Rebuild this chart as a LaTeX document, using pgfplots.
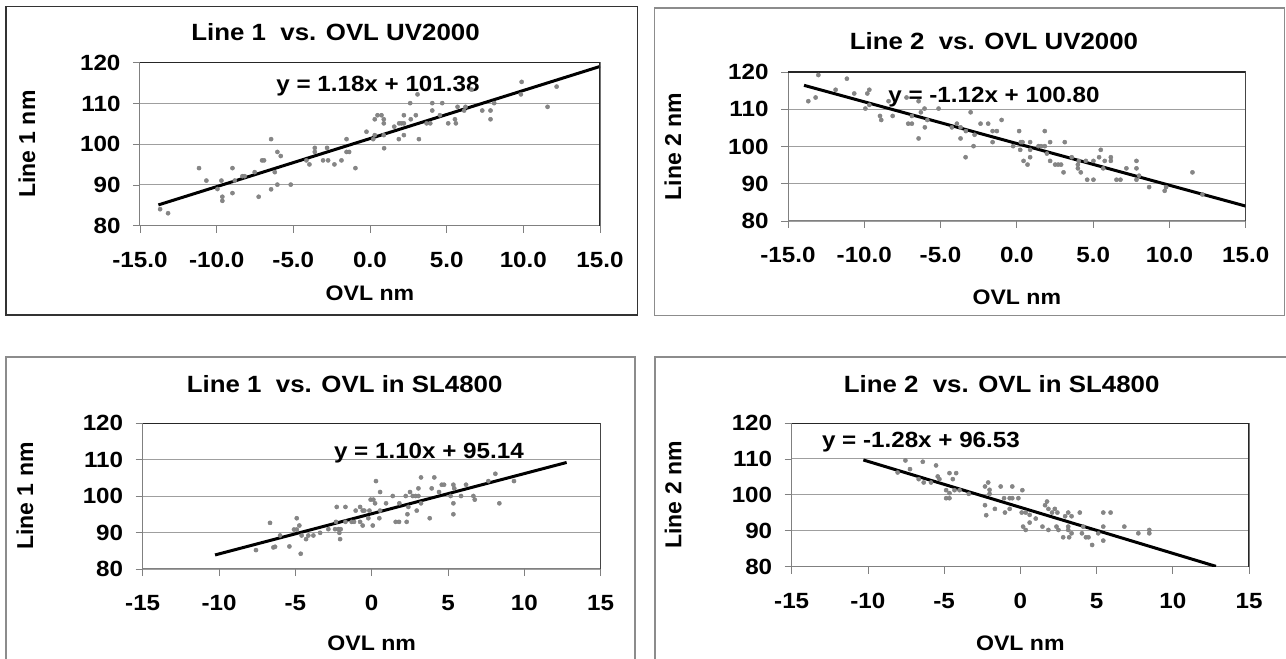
\documentclass[border=0pt]{standalone}
\usepackage{fontspec}
\setmainfont{Liberation Sans}[FakeStretch=1.1]
\newfontfamily\rotfont{Liberation Sans}
\usepackage{pgfplots}
\pgfplotsset{compat=1.18}
\newcommand{\fs}[1]{\fontsize{#1}{#1}\selectfont\bfseries}
\newcommand{\fr}[1]{\rotfont\fontsize{#1}{#1}\selectfont\bfseries}
\pgfplotsset{
  panel/.style={
    scale only axis,
    xmin=-15,xmax=15,ymin=80,ymax=120,
    xtick={-15,-10,-5,0,5,10,15},
    ytick={80,90,100,110,120},
    yticklabels={80,90,100,110,120},
    tick pos=left,
    tick align=outside,
    major tick length=7pt,
    tick style={gray, line width=0.8pt},
    axis line style={gray, line width=1pt},
    ymajorgrids,
    grid style={gray!75, line width=0.9pt},
    tick label style={font=\fs{22}},
    xlabel style={font=\fs{21}},
    ylabel style={font=\fr{23}},
    title style={font=\fs{23.5}},
    xticklabel shift=16pt,
    yticklabel shift=9pt,
    xlabel={OVL nm},
  },
  pts/.style={only marks, mark=*, mark size=2.1pt, mark options={fill=gray!95, draw=none}, color=gray},
  fit/.style={black, line width=3pt, no marks},
}
\begin{document}
\begin{tikzpicture}
\path[use as bounding box] (0pt,0pt) rectangle (1286pt,659pt);
% chart frames
\draw[black!80, line width=1.5pt] (6pt,652.5pt) rectangle (637.5pt,344pt);
\draw[gray!90, line width=1.2pt] (654.5pt,651pt) rectangle (1284.5pt,343.5pt);
\draw[gray!90, line width=1.2pt] (6pt,-2pt) -- (6pt,302pt) -- (635pt,302pt) -- (635pt,-2pt);
\draw[gray!90, line width=1.2pt] (655pt,-2pt) -- (655pt,302pt) -- (1290pt,302pt);

% Panel 1
\begin{axis}[panel, at={(140pt,433.3pt)}, anchor=south west, width=460pt, height=163pt,
  xticklabels={-15.0,-10.0,-5.0,0.0,5.0,10.0,15.0},
  ylabel={Line 1 nm},
  title={Line 1\ \ vs. OVL UV2000},
  title style={at={(axis description cs:0.425,1.152)}, anchor=center},
  xlabel style={at={(axis description cs:0.5,-0.413)}, anchor=center},
  ylabel style={at={(axis description cs:-0.2457,0.5)}, anchor=center},
]
\addplot[pts] coordinates {
(-13.69,84.05) (-13.17,83.06) (-11.15,94.13) (-10.67,91.07) (-9.69,91.07) (-9.95,89.0)
(-9.63,87.1) (-9.63,86.1) (-8.97,94.13) (-8.97,88.0) (-8.82,91.07) (-8.32,92.15)
(-8.17,92.15) (-7.52,93.14) (-7.26,87.1) (-7.04,96.03) (-6.91,96.03) (-6.45,101.24)
(-6.45,88.93) (-6.21,93.14) (-6.04,98.1) (-6.04,90.08) (-5.82,97.1) (-5.17,90.08)
(-4.15,96.03) (-3.95,95.04) (-3.60,99.09) (-3.60,98.1) (-3.06,96.03) (-2.80,99.09)
(-2.73,96.03) (-2.32,95.04) (-1.86,96.03) (-1.53,101.24) (-1.53,98.1) (-1.36,98.1)
(-0.95,94.13) (-0.23,103.06) (0.21,101.24) (0.31,102.23) (0.31,106.12) (0.49,107.11)
(0.75,107.11) (0.90,106.12) (0.90,105.12) (0.90,102.23) (0.92,99.01) (1.58,104.3)
(1.88,101.24) (1.90,105.12) (2.05,105.12) (2.21,107.11) (2.21,102.23) (2.21,105.12)
(2.66,106.12) (2.62,110.08) (2.99,107.11) (3.10,112.23) (3.19,101.24) (3.69,105.12)
(3.93,105.12) (4.06,110.08) (4.06,108.26) (4.56,107.11) (4.71,110.08) (5.10,105.12)
(5.54,106.12) (5.60,105.12) (5.71,109.17) (6.14,108.26) (6.23,109.17) (6.62,113.39)
(7.32,108.26) (7.86,108.26) (7.86,106.12) (8.10,110.08) (9.84,112.23) (9.89,115.29)
(11.58,109.17) (12.17,114.13)
};
\addplot[fit] coordinates {(-13.8,85.10) (15,119.08)};
\node[font=\fs{22}] at (axis cs:0.52,114.28) {y = 1.18x + 101.38};
\draw[black!85, line width=1.2pt] (rel axis cs:0,1) -- (rel axis cs:1,1) -- (rel axis cs:1,0);
\end{axis}

% Panel 2
\begin{axis}[panel, at={(788pt,438pt)}, anchor=south west, width=457.7pt, height=149pt,
  xticklabels={-15.0,-10.0,-5.0,0.0,5.0,10.0,15.0},
  ylabel={Line 2 nm},
  title={Line 2\ \ vs. OVL UV2000},
  title style={at={(axis description cs:0.450,1.170)}, anchor=center},
  xlabel style={at={(axis description cs:0.5,-0.51)}, anchor=center},
  ylabel style={at={(axis description cs:-0.2513,0.5)}, anchor=center},
]
\addplot[pts] coordinates {
(-13.67,112.16) (-13.19,113.15) (-13.01,119.19) (-11.88,115.23) (-11.14,118.2) (-10.66,114.23)
(-9.93,110.18) (-9.80,114.23) (-9.67,115.23) (-9.67,111.17) (-8.97,108.2) (-8.89,107.12)
(-8.41,112.16) (-8.14,108.2) (-7.23,113.15) (-7.12,106.13) (-6.88,106.13) (-6.88,108.2)
(-6.44,102.16) (-6.44,112.16) (-6.29,109.19) (-6.05,110.18) (-6.03,105.14) (-5.87,107.12)
(-5.13,110.18) (-4.26,105.14) (-3.93,106.13) (-3.69,102.16) (-3.69,105.14) (-3.36,97.12)
(-3.34,104.14) (-3.03,109.19) (-2.84,100.09) (-2.77,103.15) (-2.38,106.13) (-1.88,106.13)
(-1.59,101.17) (-1.59,104.14) (-1.31,104.14) (-1.00,107.12) (-0.24,100.09) (0.15,104.14)
(0.22,99.1) (0.26,101.17) (0.37,101.17) (0.44,96.13) (0.70,95.14) (0.87,101.17)
(0.87,99.1) (0.87,97.12) (1.42,100.09) (1.59,100.09) (1.83,104.14) (1.83,100.09)
(1.97,98.11) (2.18,101.17) (2.18,96.13) (2.51,95.14) (2.71,95.14) (2.90,95.14)
(3.06,93.06) (3.14,101.17) (3.60,97.12) (4.00,95.14) (4.00,94.14) (4.06,96.13)
(4.19,93.06) (4.52,96.13) (4.61,91.08) (5.02,96.13) (5.02,91.08) (5.39,97.12)
(5.50,99.1) (5.66,94.14) (5.76,96.13) (6.16,97.12) (6.16,96.13) (6.53,91.08)
(6.79,91.08) (7.18,94.14) (7.84,96.13) (7.84,94.14) (7.84,91.08) (8.01,92.16)
(8.67,89.1) (9.69,88.11) (9.78,89.1) (11.51,93.06) (12.16,87.12)
};
\addplot[fit] coordinates {(-13.95,116.42) (15,84.0)};
\node[font=\fs{22}] at (axis cs:-1.50,113.29) {y = -1.12x + 100.80};
\draw[black!85, line width=1.2pt] (rel axis cs:0,1) -- (rel axis cs:1,1) -- (rel axis cs:1,0);
\end{axis}

% Panel 3
\begin{axis}[panel, at={(142.7pt,90pt)}, anchor=south west, width=458pt, height=146pt,
  xticklabels={-15,-10,-5,0,5,10,15},
  ylabel={Line 1 nm},
  title={Line 1\ \ vs. OVL in SL4800},
  title style={at={(axis description cs:0.441,1.226)}, anchor=center},
  xlabel style={at={(axis description cs:0.5,-0.507)}, anchor=center},
  ylabel style={at={(axis description cs:-0.257,0.5)}, anchor=center},
]
\addplot[pts] coordinates {
(-7.58,85.18) (-6.66,92.64) (-6.44,85.91) (-6.33,86.09) (-6.00,89.18) (-5.39,86.18)
(-5.09,90.82) (-4.91,93.91) (-4.91,90.82) (-4.74,91.91) (-4.65,84.18) (-4.59,89.18)
(-4.30,88.18) (-4.15,89.18) (-3.82,89.18) (-3.38,89.91) (-2.84,90.91) (-2.40,90.91)
(-2.34,92.91) (-2.29,97.0) (-2.18,90.91) (-2.12,89.91) (-2.07,88.18) (-2.03,90.91)
(-1.72,97.0) (-1.72,92.91) (-1.31,92.91) (-1.16,92.91) (-1.05,96.0) (-0.76,97.0)
(-0.76,92.91) (-0.59,91.91) (-0.59,96.0) (-0.48,96.0) (-0.22,93.91) (-0.15,96.0)
(-0.07,99.0) (0.07,91.91) (0.11,99.0) (0.22,98.0) (0.28,104.09) (0.50,93.91)
(0.55,101.09) (0.55,96.0) (0.94,98.0) (1.38,100.0) (1.57,92.91) (1.79,92.91)
(1.81,98.0) (2.23,100.0) (2.29,92.91) (2.34,95.0) (2.40,97.0) (2.51,101.09)
(2.69,100.0) (2.88,100.0) (3.06,102.09) (3.06,100.0) (2.95,96.0) (3.23,105.09)
(3.23,98.0) (3.80,93.91) (3.93,102.09) (4.10,105.09) (4.41,101.09) (4.59,103.09)
(4.74,103.09) (5.17,100.0) (5.35,103.09) (5.35,98.0) (5.35,95.0) (5.41,102.09)
(5.85,100.0) (6.18,103.09) (6.66,100.0) (6.75,99.0) (7.64,104.09) (8.10,106.09)
(8.36,98.0) (9.32,104.09)
};
\addplot[fit] coordinates {(-10.26,83.85) (12.77,109.19)};
\node[font=\fs{22}] at (axis cs:3.75,111.78) {y = 1.10x + 95.14};
\draw[black!85, line width=1.2pt] (rel axis cs:0,1) -- (rel axis cs:1,1) -- (rel axis cs:1,0);
\end{axis}

% Panel 4
\begin{axis}[panel, at={(791.7pt,92.3pt)}, anchor=south west, width=457.3pt, height=143.7pt,
  xticklabels={-15,-10,-5,0,5,10,15},
  ylabel={Line 2 nm},
  title={Line 2\ \ vs. OVL in SL4800},
  title style={at={(axis description cs:0.459,1.230)}, anchor=center},
  xlabel style={at={(axis description cs:0.5,-0.531)}, anchor=center},
  ylabel style={at={(axis description cs:-0.2595,0.5)}, anchor=center},
]
\addplot[pts] coordinates {
(-8.05,106.23) (-7.54,109.58) (-7.24,107.16) (-6.67,104.37) (-6.40,109.21) (-6.34,103.44)
(-5.86,103.44) (-5.53,108.19) (-5.42,105.12) (-5.31,104.37) (-4.87,101.3) (-4.87,99.07)
(-4.65,99.07) (-4.65,100.47) (-4.65,106.05) (-4.43,104.37) (-4.21,106.05) (-4.32,101.3)
(-3.99,101.3) (-3.38,100.28) (-2.32,102.33) (-2.32,97.12) (-2.24,94.33) (-2.11,103.44)
(-2.02,101.4) (-2.02,100.28) (-1.67,96.09) (-1.29,102.33) (-1.07,99.07) (-1.01,95.07)
(-0.70,96.09) (-0.70,99.07) (-0.53,102.33) (-0.53,99.07) (-0.13,99.07) (0.09,95.07)
(0.13,101.3) (0.18,91.16) (0.35,90.23) (0.35,95.07) (0.61,92.28) (0.61,94.42)
(1.01,93.4) (1.45,91.16) (1.62,97.12) (1.75,98.14) (1.84,90.23) (1.84,96.09)
(2.08,95.07) (2.26,96.09) (2.37,91.16) (2.43,95.07) (2.50,90.23) (2.81,88.19)
(2.94,94.05) (3.14,95.07) (3.14,91.16) (3.14,90.23) (3.20,88.19) (3.36,94.05)
(3.36,89.3) (3.90,95.07) (4.04,89.3) (4.12,91.16) (4.30,88.19) (4.47,88.19)
(4.71,86.05) (5.11,89.3) (5.44,95.07) (5.44,91.16) (5.44,87.26) (5.92,95.07)
(6.82,91.16) (7.74,89.3) (8.46,90.23) (8.46,89.3)
};
\addplot[fit] coordinates {(-10.3,109.71) (12.83,80.1)};
\node[font=\fs{22}] at (axis cs:-6.52,114.8) {y = -1.28x + 96.53};
\draw[black!85, line width=1.2pt] (rel axis cs:0,1) -- (rel axis cs:1,1) -- (rel axis cs:1,0);
\end{axis}
\end{tikzpicture}
\end{document}
